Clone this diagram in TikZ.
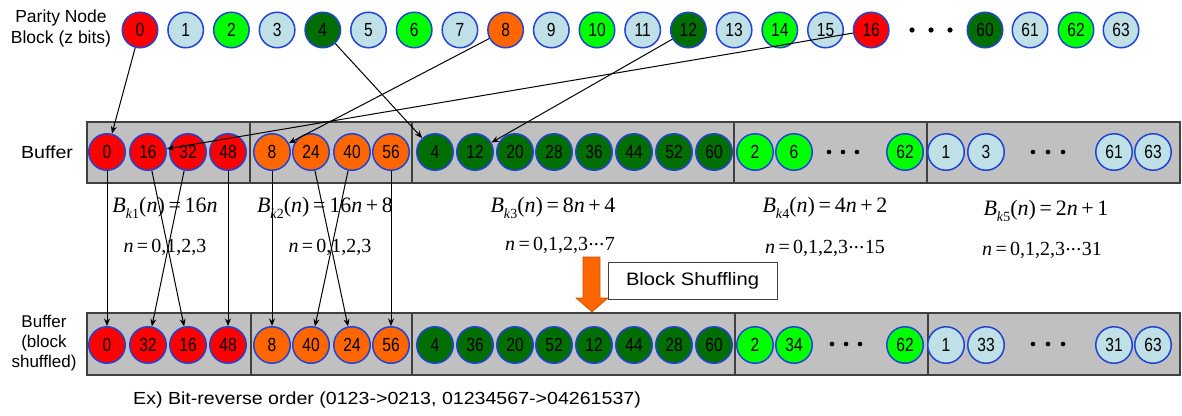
\documentclass[tikz,border=0pt]{standalone}
\usepackage{fontspec}
\setmainfont{Liberation Sans}
\newfontfamily\numfont[FakeStretch=0.82]{Liberation Sans}
\newfontfamily\widefont[FakeStretch=1.12]{Liberation Sans}
\newfontfamily\tms{Liberation Serif}
\usetikzlibrary{arrows.meta}

\definecolor{cRed}{HTML}{FF0000}
\definecolor{cOr}{HTML}{FF6600}
\definecolor{cDg}{HTML}{006E00}
\definecolor{cLg}{HTML}{00FF00}
\definecolor{cLb}{HTML}{BFE0E6}
\definecolor{cRim}{HTML}{2244D4}
\definecolor{cBox}{HTML}{C0C0C0}
\definecolor{cEdge}{HTML}{404040}
\definecolor{cArrEdge}{HTML}{C85000}

% B_{k<i>} in Times-like italics
\newcommand{\Bsub}[1]{\textit{B}\raisebox{-0.28em}{\fontsize{14}{14}\selectfont\textit{k}#1}}
% compact centred ellipsis
\newcommand{\cdt}{\raisebox{0.22em}{\kern0.5pt.\kern0.3pt.\kern0.3pt.\kern0.5pt}}

\tikzset{
  pn/.style={circle,draw=cRim,line width=1.5pt,minimum size=35.5pt,inner sep=0pt,
             font=\fontsize{19}{19}\selectfont\numfont},
  pRed/.style={fill=cRed}, pOr/.style={fill=cOr}, pDg/.style={fill=cDg},
  pLg/.style={fill=cLg}, pLb/.style={fill=cLb},
  blockbox/.style={fill=cBox,draw=cEdge,line width=1.1pt},
  sep/.style={draw=cEdge,line width=1.1pt},
  arr/.style={draw=black,line width=1pt,-{Stealth[length=7.5pt,width=6pt]}},
  lbl/.style={font=\fontsize{17.5}{21}\selectfont,align=center,inner sep=0pt},
  fml/.style={font=\tms\fontsize{22}{22}\selectfont,inner sep=0pt},
  nln/.style={font=\tms\fontsize{20}{20}\selectfont,inner sep=0pt},
}

\begin{document}
\begin{tikzpicture}[x=1pt,y=-1pt]
\useasboundingbox (0,0) rectangle (1182,415);

% ---------- parity node block ----------
\node[lbl] (plabel) at (61,28) {Parity Node\\Block (z bits)};
\foreach \i/\c in {0/pRed,1/pLb,2/pLg,3/pLb,4/pDg,5/pLb,6/pLg,7/pLb,8/pOr,
                   9/pLb,10/pLg,11/pLb,12/pDg,13/pLb,14/pLg,15/pLb,16/pRed}
  \node[pn,\c] (t\i) at ({140+45.7*\i},30) {\i};
\foreach \i/\x/\c in {60/985/pDg,61/1030/pLb,62/1076/pLg,63/1121/pLb}
  \node[pn,\c] (t\i) at (\x,30) {\i};
\foreach \x in {912,931,950} \fill (\x,30) circle (2.6);

% ---------- buffer ----------
\node[lbl,font=\widefont\fontsize{17.5}{21}\selectfont] (blabel) at (47,152) {Buffer};
\draw[blockbox] (87,122) rectangle (1180,183);
\foreach \x in {250,412,734,927} \draw[sep] (\x,122) -- (\x,183);
\foreach \v/\x/\c in {0/107/pRed,16/148/pRed,32/188/pRed,48/228/pRed,
                      8/272/pOr,24/311/pOr,40/352/pOr,56/391/pOr,
                      4/435/pDg,12/475/pDg,20/515/pDg,28/554/pDg,36/594/pDg,44/634/pDg,52/674/pDg,60/714/pDg,
                      2/755/pLg,6/794/pLg,62/905/pLg,
                      1/946/pLb,3/986/pLb,61/1114/pLb,63/1153/pLb}
  \node[pn,\c,minimum size=36.5pt] (b\v) at (\x,152) {\v};
\foreach \x in {829,843,857,1033,1048,1063} \fill (\x,152) circle (2.3);

% ---------- block-shuffled buffer ----------
\node[lbl,font=\fontsize{17}{20}\selectfont] (slabel) at (44,343) {Buffer\\(block\\shuffled)};
\draw[blockbox] (87,313) rectangle (1180,375);
\foreach \x in {251,412,735,928} \draw[sep] (\x,313) -- (\x,375);
\foreach \v/\x/\c in {0/107/pRed,32/148/pRed,16/188/pRed,48/228/pRed,
                      8/272/pOr,40/311/pOr,24/352/pOr,56/391/pOr,
                      4/435/pDg,36/475/pDg,20/515/pDg,52/554/pDg,12/594/pDg,44/634/pDg,28/674/pDg,60/714/pDg,
                      2/755/pLg,34/794/pLg,62/905/pLg,
                      1/946/pLb,33/986/pLb,31/1114/pLb,63/1153/pLb}
  \node[pn,\c,minimum size=36.5pt] (s\v) at (\x,345) {\v};
\foreach \x in {832,846,860,1033,1048,1063} \fill (\x,344) circle (2.3);

% ---------- block index formulas ----------
\node[fml] (f1) at (165,208) {\Bsub{1}(\textit{n})\,=\,16\textit{n}};
\node[nln] (n1) at (165,247) {\textit{n}\,=\,0,1,2,3};
\node[fml] (f2) at (325,208) {\Bsub{2}(\textit{n})\,=\,16\textit{n}\,+\,8};
\node[nln] (n2) at (330,247) {\textit{n}\,=\,0,1,2,3};
\node[fml] (f3) at (553,208) {\Bsub{3}(\textit{n})\,=\,8\textit{n}\,+\,4};
\node[nln] (n3) at (560,245) {\textit{n}\,=\,0,1,2,3\cdt7};
\node[fml] (f4) at (825,208) {\Bsub{4}(\textit{n})\,=\,4\textit{n}\,+\,2};
\node[nln] (n4) at (825,248) {\textit{n}\,=\,0,1,2,3\cdt15};
\node[fml] (f5) at (1046,211) {\Bsub{5}(\textit{n})\,=\,2\textit{n}\,+\,1};
\node[nln] (n5) at (1042,250) {\textit{n}\,=\,0,1,2,3\cdt31};

% ---------- block shuffling step ----------
\fill[cOr,draw=cArrEdge,line width=0.6pt]
  (583,257) -- (600,257) -- (600,298) -- (608,298) -- (592,312) -- (576,298) -- (583,298) -- cycle;
\node[draw=cEdge,fill=white,line width=0.9pt,minimum width=169pt,minimum height=37pt,inner sep=0pt,
      font=\widefont\fontsize{18}{18}\selectfont] (shuf) at (692.5,280.5) {Block Shuffling};

% ---------- parity nodes into the buffer ----------
\draw[arr] (t0) -- (b0);
\draw[arr] (t16) -- (b16);
\draw[arr] (t8) -- (b8);
\draw[arr] (t4) -- (b4);
\draw[arr] (t12) -- (b12);

% ---------- bit-reverse moves inside each block ----------
\foreach \v in {0,16,32,48,8,24,40,56}
  \draw[arr] (b\v) -- (s\v);

\node[anchor=west,inner sep=0pt,font=\widefont\fontsize{17.5}{17.5}\selectfont] (ex) at (133,400)
  {Ex) Bit-reverse order (0123->0213, 01234567->04261537)};
\end{tikzpicture}
\end{document}
